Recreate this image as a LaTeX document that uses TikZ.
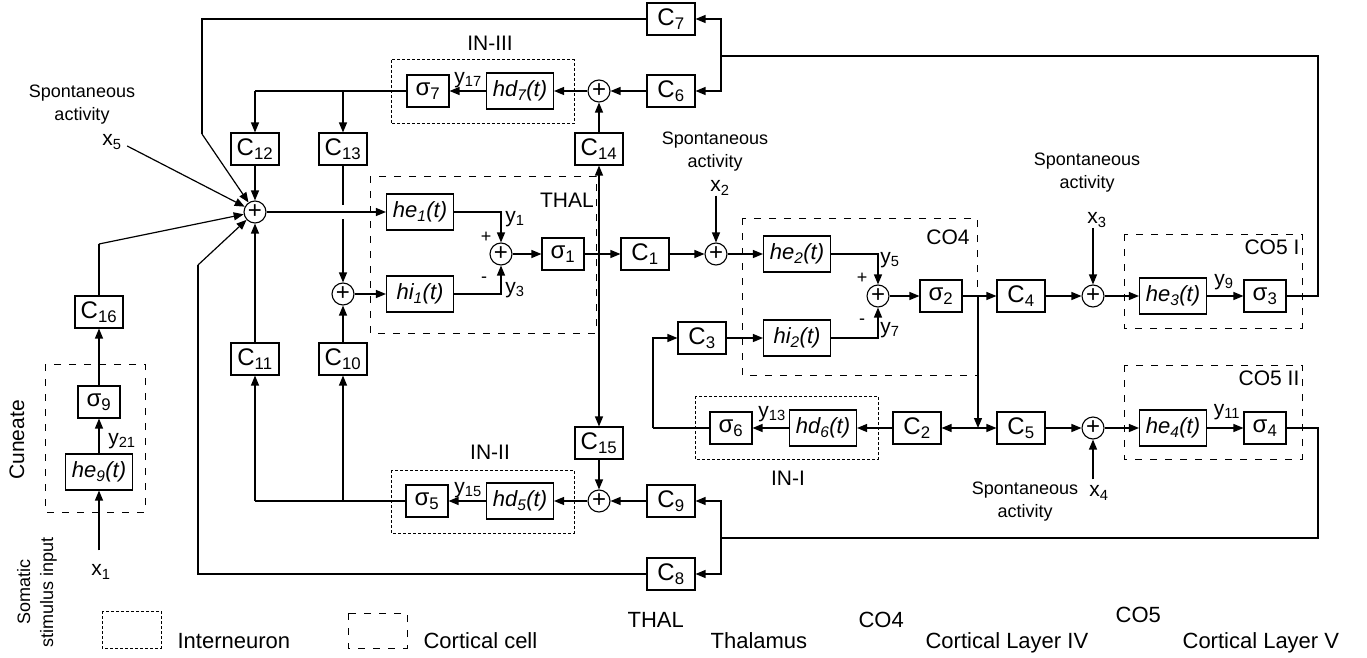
\documentclass[tikz,border=0pt]{standalone}
\usepackage{fontspec}
\setmainfont{Liberation Sans}
\usetikzlibrary{arrows.meta}
\newcommand{\sbs}[1]{\textsubscript{#1}}
\begin{document}
\begin{tikzpicture}[x=1pt,y=-1pt, line width=1.2pt,
 blk/.style={draw, line width=1.1pt, minimum width=48pt, minimum height=32pt, inner sep=0pt, font=\fontsize{24}{27}\selectfont},
 sg/.style={blk, minimum width=42pt},
 hb/.style={blk, minimum width=67pt, minimum height=36pt, font=\fontsize{22}{25}\selectfont\itshape},
 sum/.style={draw, circle, minimum size=22pt, inner sep=0pt, line width=1.1pt, font=\fontsize{24}{24}\selectfont},
 arr/.style={-{Triangle[length=10pt,width=8pt]}},
 lbl/.style={font=\fontsize{21}{24}\selectfont, inner sep=0pt},
 sml/.style={font=\fontsize{18}{20}\selectfont, inner sep=0pt},
 sp/.style={font=\fontsize{18}{23}\selectfont, align=center, inner sep=0pt},
 leg/.style={font=\fontsize{22}{24}\selectfont, inner sep=0pt, anchor=base west},
 cort/.style={draw, line width=1pt, dash pattern=on 7pt off 8pt},
 intn/.style={draw, line width=1pt, dash pattern=on 3pt off 2pt},
]
\useasboundingbox (0,0) rectangle (1367,658);

% ---------- Cuneate ----------
\draw[cort] (45,364) rectangle (145,512);
\node[rotate=90, lbl] (cun) at (17,440) {Cuneate};
\node[rotate=90, sp] (som) at (37,592) {Somatic\\stimulus input};
\node[blk] (C16) at (99,312) {C\sbs{16}};
\node[sg] (s9) at (99,402) {σ\sbs{9}};
\node[hb] (he9) at (99,472) {he\sbs{9}(t)};
\node[lbl] (x1) at (101,572) {x\sbs{1}};
\node[lbl] (y21) at (122,441) {y\sbs{21}};

% ---------- left sums ----------
\node[sum] (S1) at (255,212) {+};
\node[blk] (C12) at (255,149) {C\sbs{12}};
\node[blk] (C13) at (343,149) {C\sbs{13}};
\node[sum] (S2) at (343,294) {+};
\node[blk] (C11) at (255,359) {C\sbs{11}};
\node[blk] (C10) at (343,359) {C\sbs{10}};
\node[sp] (sp5) at (82,105) {Spontaneous\\activity};
\node[lbl] (x5) at (112,142) {x\sbs{5}};

% ---------- IN-III ----------
\draw[intn] (391,60) rectangle (574,124);
\node[lbl] (lIN3) at (490,43) {IN-III};
\node[sum] (S7) at (599,91) {+};
\node[blk] (C6) at (671,91) {C\sbs{6}};
\node[blk] (C7) at (671,19) {C\sbs{7}};
\node[hb] (hd7) at (520,91) {hd\sbs{7}(t)};
\node[sg] (s7) at (428,91) {σ\sbs{7}};
\node[lbl] (y17) at (468,80) {y\sbs{17}};
\node[blk] (C14) at (599,149) {C\sbs{14}};

% ---------- THAL ----------
\draw[cort] (370,176) rectangle (596,333);
\node[lbl] (lTHAL) at (567,200) {THAL};
\node[hb] (he1) at (420,212) {he\sbs{1}(t)};
\node[hb] (hi1) at (420,294) {hi\sbs{1}(t)};
\node[sum] (S3) at (501,254) {+};
\node[sg] (s1) at (563,254) {σ\sbs{1}};
\node[blk] (C1) at (645,254) {C\sbs{1}};
\node[lbl] (y1) at (515,219) {y\sbs{1}};
\node[sml] (p1) at (486,237) {+};
\node[sml] (m1) at (484,280) {-};
\node[lbl] (y3) at (515,290) {y\sbs{3}};

% ---------- CO4 ----------
\node[sp] (sp2) at (715,152) {Spontaneous\\activity};
\node[lbl] (x2) at (720,188) {x\sbs{2}};
\node[sum] (S4) at (716,254) {+};
\draw[cort] (742,218) rectangle (977,375);
\node[lbl] (lCO4) at (948,237) {CO4};
\node[hb] (he2) at (797,254) {he\sbs{2}(t)};
\node[hb] (hi2) at (797,338) {hi\sbs{2}(t)};
\node[sum] (S6) at (878,296) {+};
\node[sg] (s2) at (941,296) {σ\sbs{2}};
\node[blk] (C3) at (702,338) {C\sbs{3}};
\node[lbl] (y5) at (890,260) {y\sbs{5}};
\node[sml] (p2) at (862,278) {+};
\node[sml] (m2) at (862,322) {-};
\node[lbl] (y7) at (890,330) {y\sbs{7}};

% ---------- CO5 I ----------
\node[blk] (C4) at (1021,296) {C\sbs{4}};
\node[sp] (sp3) at (1087,173) {Spontaneous\\activity};
\node[lbl] (x3) at (1097,220) {x\sbs{3}};
\node[sum] (S9) at (1093,296) {+};
\draw[cort] (1124,234) rectangle (1302,328);
\node[lbl, anchor=east] (lCO5a) at (1300,247) {CO5 I};
\node[hb] (he3) at (1173,296) {he\sbs{3}(t)};
\node[sg] (s3) at (1265,296) {σ\sbs{3}};
\node[lbl] (y9) at (1224,282) {y\sbs{9}};

% ---------- CO5 II ----------
\node[blk] (C5) at (1021,428) {C\sbs{5}};
\node[sum] (S8) at (1093,428) {+};
\draw[cort] (1124,365) rectangle (1302,459);
\node[lbl, anchor=east] (lCO5b) at (1300,378) {CO5 II};
\node[hb] (he4) at (1173,428) {he\sbs{4}(t)};
\node[sg] (s4) at (1265,428) {σ\sbs{4}};
\node[lbl] (y11) at (1227,412) {y\sbs{11}};
\node[lbl] (x4) at (1099,493) {x\sbs{4}};
\node[sp] (sp4) at (1025,502) {Spontaneous\\activity};

% ---------- IN-I ----------
\draw[intn] (695,396) rectangle (878,459);
\node[lbl] (lIN1) at (788,478) {IN-I};
\node[sg] (s6) at (731,428) {σ\sbs{6}};
\node[hb] (hd6) at (823,428) {hd\sbs{6}(t)};
\node[lbl] (y13) at (772,414) {y\sbs{13}};
\node[blk] (C2) at (917,428) {C\sbs{2}};

% ---------- IN-II ----------
\draw[intn] (391,470) rectangle (574,533);
\node[lbl] (lIN2) at (490,452) {IN-II};
\node[blk] (C15) at (599,443) {C\sbs{15}};
\node[sum] (S5) at (599,501) {+};
\node[hb] (hd5) at (520,501) {hd\sbs{5}(t)};
\node[sg] (s5) at (427,501) {σ\sbs{5}};
\node[lbl] (y15) at (468,490) {y\sbs{15}};
\node[blk] (C9) at (671,501) {C\sbs{9}};
\node[blk] (C8) at (671,574) {C\sbs{8}};

% ---------- legend ----------
\draw[intn] (102,611) rectangle (161,648);
\node[leg] (lg1) at (177,648) {Interneuron};
\draw[cort] (348,613) rectangle (407,648);
\node[leg] (lg2) at (423,648) {Cortical cell};
\node[leg] (lg3) at (627,627) {THAL};
\node[leg] (lg4) at (710,648) {Thalamus};
\node[leg] (lg5) at (858,627) {CO4};
\node[leg] (lg6) at (925,648) {Cortical Layer IV};
\node[leg] (lg7) at (1115,622) {CO5};
\node[leg] (lg8) at (1182,648) {Cortical Layer V};

% ---------- coordinates ----------
\coordinate (k1) at (202,134);
\coordinate (k2) at (198,265);
\coordinate (k3) at (99,244);
\coordinate (t1) at (255,91);
\coordinate (t2) at (343,91);
\coordinate (b1) at (255,501);
\coordinate (b2) at (343,501);
\coordinate (g1) at (343,205);
\coordinate (g2) at (343,219);
\coordinate (j1) at (599,254);
\coordinate (j2) at (978,296);
\coordinate (j3) at (978,428);
\coordinate (c3a) at (653,428);
\coordinate (tr) at (1318,56);
\coordinate (tl) at (721,56);
\coordinate (br) at (1318,538);
\coordinate (bl) at (721,538);

% ---------- connectors ----------
% cuneate
\draw[arr] ([yshift=14pt]x1.north -| he9) -- (he9);
\draw[arr] (he9) -- (s9);
\draw[arr] (s9) -- (C16);
\draw (C16.north) -- (k3);
\draw[arr] (k3) -- (S1);
\draw[arr] ([xshift=5pt,yshift=-4pt]x5.east) -- (S1);
% top feedback
\draw (C7.west) -| (k1);
\draw[arr] (k1) -- (S1);
\draw (C8.west) -| (k2);
\draw[arr] (k2) -- (S1);
% IN-III outputs
\draw (s7.west) -- (t1);
\draw[arr] (t1) -- (C12);
\draw[arr] (t2) -- (C13);
\draw[arr] (C12) -- (S1);
\draw (C13) -- (g1);
\draw[arr] (g2) -- (S2);
% IN-II outputs
\draw (s5.west) -- (b1);
\draw[arr] (b1) -- (C11);
\draw[arr] (b2) -- (C10);
\draw[arr] (C11) -- (S1);
\draw[arr] (C10) -- (S2);
% THAL
\draw[arr] (S1) -- (he1);
\draw[arr] (S2) -- (hi1);
\draw[arr] (he1.east) -| (S3);
\draw[arr] (hi1.east) -| (S3);
\draw[arr] (S3) -- (s1);
\draw[arr] (s1) -- (C1);
\draw[arr] (j1) -- (C14);
\draw[arr] (j1) -- (C15);
% IN-III
\draw[arr] (C14) -- (S7);
\draw[arr] (C6) -- (S7);
\draw[arr] (S7) -- (hd7);
\draw[arr] (hd7) -- (s7);
% IN-II
\draw[arr] (C15) -- (S5);
\draw[arr] (C9) -- (S5);
\draw[arr] (S5) -- (hd5);
\draw[arr] (hd5) -- (s5);
% CO4
\draw[arr] (C1) -- (S4);
\draw[arr] (x2.south -| S4) -- (S4);
\draw[arr] (S4) -- (he2);
\draw[arr] (he2.east) -| (S6);
\draw[arr] (hi2.east) -| (S6);
\draw[arr] (C3) -- (hi2);
\draw[arr] (S6) -- (s2);
\draw[arr] (s2) -- (C4);
\draw[arr] (j2) -- (j3);
\draw[arr] (j3) -- (C2);
\draw[arr] (j3) -- (C5);
% IN-I
\draw[arr] (C2) -- (hd6);
\draw[arr] (hd6) -- (s6);
\draw (s6.west) -- (c3a);
\draw[arr] (c3a) |- (C3.west);
% CO5 I
\draw[arr] (C4) -- (S9);
\draw[arr] (x3.south -| S9) -- (S9);
\draw[arr] (S9) -- (he3);
\draw[arr] (he3) -- (s3);
\draw (s3.east) -| (tr) -- (tl);
\draw[arr] (tl) |- (C7.east);
\draw[arr] (tl) |- (C6.east);
% CO5 II
\draw[arr] (C5) -- (S8);
\draw[arr] ([yshift=6pt]x4.north -| S8) -- (S8);
\draw[arr] (S8) -- (he4);
\draw[arr] (he4) -- (s4);
\draw (s4.east) -| (br) -- (bl);
\draw[arr] (bl) |- (C9.east);
\draw[arr] (bl) |- (C8.east);
\end{tikzpicture}
\end{document}
